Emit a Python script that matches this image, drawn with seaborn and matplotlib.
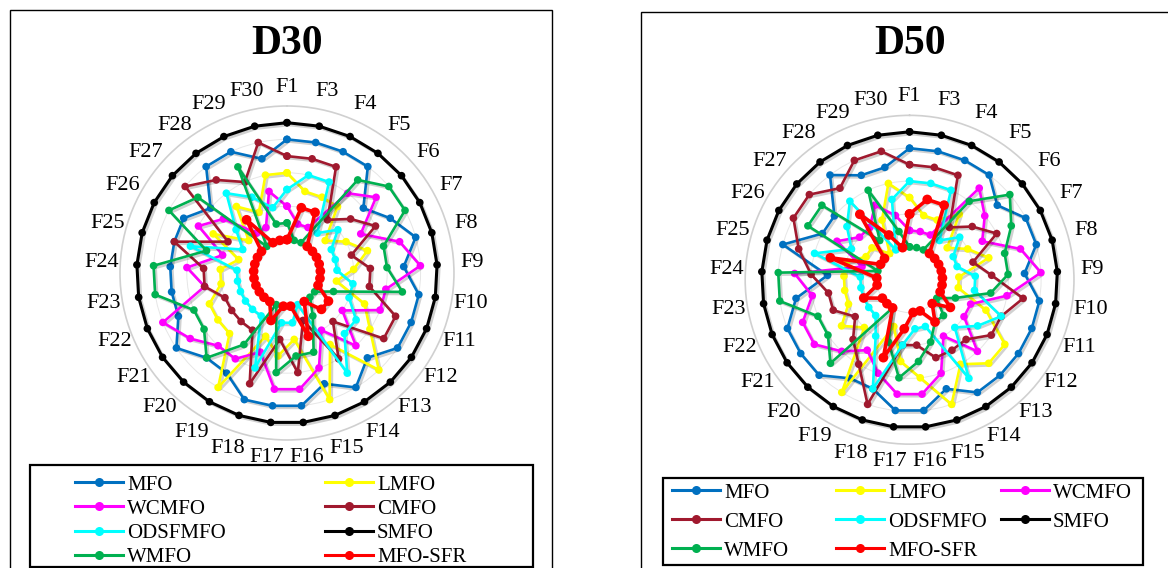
import numpy as np
import pandas as pd
import seaborn as sns
import matplotlib.pyplot as plt
import matplotlib.patheffects as pe
from matplotlib.lines import Line2D
from matplotlib.patches import Rectangle

# --- data: rank of each algorithm on each function (F2 not used) ---
functions = ["F1"] + [f"F{i}" for i in range(3, 31)]
algos = ["MFO", "LMFO", "WCMFO", "CMFO", "ODSFMFO", "SMFO", "WMFO", "MFO-SFR"]
colors = ["#0070C0", "#FFFF00", "#FF00FF", "#A0192E", "#00FFFF", "#000000", "#00B050", "#FF0000"]

# D30
mfo_30 = [7, 7, 7, 7, 5, 6, 7, 6, 7, 7, 7, 6, 7, 6, 7, 7, 7, 6, 6, 7, 6, 6, 6, 6, 6, 5, 7, 7, 6]
lmfo_30 = [5, 4, 4, 4, 2, 3, 4, 3, 2, 4, 5, 7, 4, 7, 3, 4, 3, 7, 4, 4, 4, 3, 3, 2, 4, 2, 4, 3, 5]
wcmfo_30 = [3, 2, 2, 5, 6, 4, 6, 7, 5, 5, 3, 5, 3, 5, 6, 6, 4, 5, 5, 6, 7, 4, 5, 3, 5, 4, 2, 2, 4]
cmfo_30 = [6, 6, 6, 3, 4, 5, 3, 4, 4, 6, 6, 3, 5, 2, 5, 3, 6, 3, 3, 3, 3, 4, 4, 6, 3, 7, 6, 5, 7]
odsf_30 = [4, 5, 5, 2, 3, 2, 2, 2, 3, 3, 4, 4, 6, 1, 2, 2, 5, 2, 2, 2, 2, 2, 2, 5, 2, 3, 5, 4, 3]
smfo_30 = [8] * 29
wmfo_30 = [2, 1, 1, 6, 7, 7, 5, 5, 6, 2, 1, 1, 2, 4, 4, 5, 1, 4, 6, 5, 5, 7, 7, 4, 7, 6, 1, 6, 2]
sfr_30 = [1, 3, 3, 1, 1, 1, 1, 1, 1, 1, 2, 2, 1, 3, 1, 1, 2, 1, 1, 1, 1, 1, 1, 1, 1, 1, 3, 1, 1]

# D50
mfo_50 = [7, 7, 7, 7, 6, 7, 7, 6, 7, 7, 7, 7, 7, 6, 7, 7, 6, 6, 7, 7, 7, 6, 4, 7, 5, 5, 7, 6, 6]
lmfo_50 = [4, 3, 3, 4, 2, 3, 4, 2, 2, 4, 6, 6, 5, 7, 5, 4, 2, 7, 3, 4, 3, 3, 3, 3, 2, 2, 1, 3, 5]
wcmfo_50 = [2, 2, 2, 6, 5, 4, 6, 7, 5, 3, 3, 5, 3, 5, 6, 6, 5, 4, 5, 6, 6, 5, 6, 2, 4, 3, 3, 4, 3]
cmfo_50 = [6, 6, 6, 3, 4, 5, 3, 4, 6, 5, 5, 4, 4, 4, 3, 3, 7, 5, 4, 3, 4, 4, 5, 6, 7, 7, 6, 7, 7]
odsf_50 = [5, 5, 5, 2, 3, 2, 2, 3, 3, 5, 4, 3, 6, 2, 2, 3, 6, 3, 2, 2, 2, 2, 2, 5, 3, 4, 5, 1, 4]
smfo_50 = [8] * 29
wmfo_50 = [1, 1, 1, 5, 7, 6, 5, 5, 4, 2, 1, 2, 2, 3, 4, 5, 3, 1, 6, 5, 5, 7, 7, 1, 6, 6, 2, 5, 2]
sfr_50 = [3, 4, 4, 1, 1, 1, 1, 1, 1, 1, 2, 1, 2, 1, 1, 2, 4, 1, 1, 1, 2, 1, 1, 4, 1, 1, 4, 2, 1]

d30 = [mfo_30, lmfo_30, wcmfo_30, cmfo_30, odsf_30, smfo_30, wmfo_30, sfr_30]
d50 = [mfo_50, lmfo_50, wcmfo_50, cmfo_50, odsf_50, smfo_50, wmfo_50, sfr_50]

plt.rcParams['font.family'] = ['Liberation Serif', 'DejaVu Serif']

W, H = 1168, 568
fig = plt.figure(figsize=(W / 100, H / 100), dpi=100)

angles = np.linspace(0, 2 * np.pi, len(functions), endpoint=False)


def radar(ax, series):
    for name, vals, col in zip(algos, series, colors):
        df = pd.DataFrame({"theta": np.append(angles, angles[0] + 2 * np.pi),
                           "rank": vals + [vals[0]]})
        lw = {"MFO-SFR": 2.6, "SMFO": 2.2}.get(name, 1.9)
        ms = 7 if name == "MFO-SFR" else 5.5
        sns.lineplot(data=df, x="theta", y="rank", sort=False, estimator=None, ax=ax,
                     color=col, lw=lw, marker="o", markersize=ms, markeredgewidth=0,
                     legend=False,
                     path_effects=[pe.SimpleLineShadow(offset=(1.5, -1.5), alpha=0.18, shadow_color="k"),
                                   pe.Normal()])
    ax.set_theta_zero_location("N")
    ax.set_theta_direction(-1)
    ax.set_ylim(-1, 9)
    ax.set_xticks(angles)
    ax.set_xticklabels(functions, fontsize=16)
    ax.tick_params(axis="x", pad=3)
    ax.set_yticks([1, 3, 5, 7])
    ax.set_yticklabels([])
    ax.set_xlabel("")
    ax.set_ylabel("")
    ax.xaxis.grid(False)
    ax.yaxis.grid(True, color="#e6e6e6", lw=0.7)
    ax.spines["polar"].set_color("#d0d0d0")
    ax.spines["polar"].set_linewidth(1.2)
    ax.set_facecolor("white")


ax1 = fig.add_axes([0.1027, 0.2254, 0.286, 0.588], projection="polar")
radar(ax1, d30)
ax2 = fig.add_axes([0.638, 0.218, 0.2815, 0.579], projection="polar")
radar(ax2, d50)

fig.text(287 / W, 1 - 44 / H, "D30", fontsize=30, fontweight="bold", ha="center", va="center")
fig.text(910 / W, 1 - 44 / H, "D50", fontsize=30, fontweight="bold", ha="center", va="center")


def box(x0, y0, x1, y1, lw):
    fig.patches.append(Rectangle((x0 / W, 1 - y1 / H), (x1 - x0) / W, (y1 - y0) / H,
                                 transform=fig.transFigure, fill=False, ec="black", lw=lw))


# panel borders and legend frames (pixel coordinates from the top-left)
box(10, 10, 552, 580, 1)
box(641, 12, 1200, 580, 1)
box(30, 465, 533, 567, 1.6)
box(663, 478, 1143, 565, 1.6)

handles = {n: Line2D([], [], color=c, lw=2.2, marker="o", markersize=6.5, markeredgewidth=0)
           for n, c in zip(algos, colors)}


def legend_column(names, x_px, y_px, spacing):
    lg = fig.legend([handles[n] for n in names], names, loc="upper left",
                    bbox_to_anchor=(x_px / W, 1 - y_px / H), frameon=False,
                    fontsize=15, handlelength=2.3, handletextpad=0.2,
                    labelspacing=spacing, borderpad=0, borderaxespad=0)
    return lg


legend_column(["MFO", "WCMFO", "ODSFMFO", "WMFO"], 75, 475, 0.22)
legend_column(["LMFO", "CMFO", "SMFO", "MFO-SFR"], 325, 475, 0.22)

legend_column(["MFO", "CMFO", "WMFO"], 672, 483, 0.45)
legend_column(["LMFO", "ODSFMFO", "MFO-SFR"], 836, 483, 0.45)
legend_column(["WCMFO", "SMFO"], 1001, 483, 0.45)

fig.savefig("out.png", dpi=100)
